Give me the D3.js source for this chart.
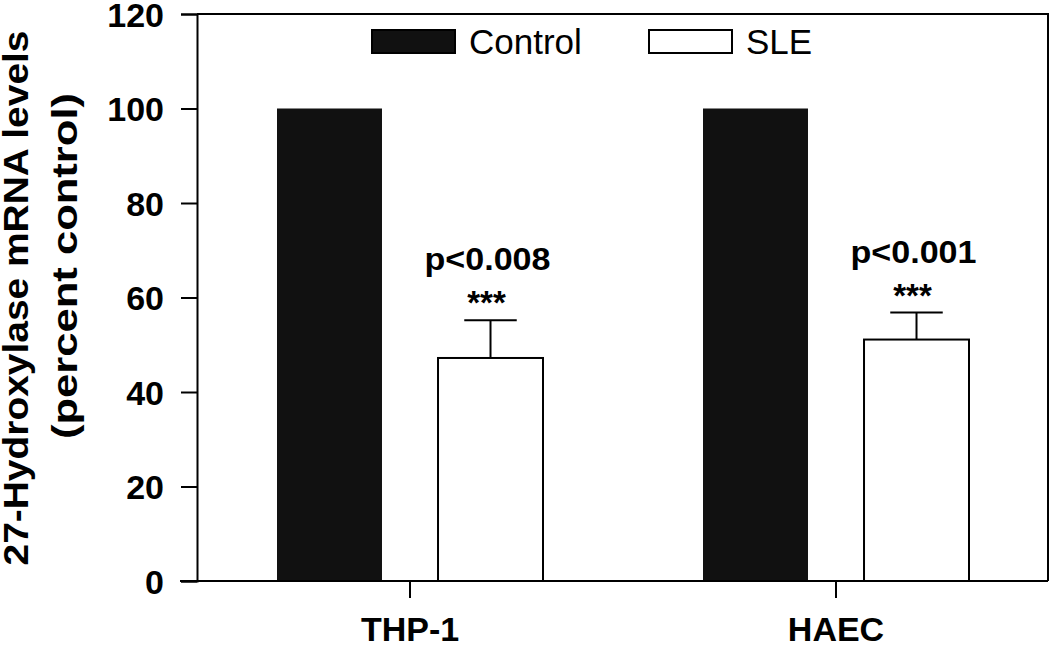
<!DOCTYPE html>
<html>
<head>
<meta charset="utf-8">
<script src="https://cdn.jsdelivr.net/npm/d3@7"></script>
<style>
  body { margin: 0; background: #fff; }
  svg { display: block; font-family: "Liberation Sans", Arial, Helvetica, sans-serif; }
</style>
</head>
<body>
<div id="chart"></div>
<script>
var categories = ["THP-1", "HAEC"];
var groups = ["Control", "SLE"];
var controlValues = [100, 100];
var sleValues = [47.2, 51.1];
var sleErrors = [8.0, 5.7];
var pLabels = ["p<0.008", "p<0.001"];
var yTicks = [0, 20, 40, 60, 80, 100, 120];

function init()
{
  var width = 1050, height = 646;
  var left = 197, right = 1049, top = 14, bottom = 581;

  var svg = d3.select("#chart")
    .append("svg")
    .attr("width", width)
    .attr("height", height);

  var x0 = d3.scaleBand()
    .domain(categories)
    .range([left, right])
    .paddingInner(0.3756)
    .paddingOuter(0.1878);

  var x1 = d3.scaleBand()
    .domain(groups)
    .range([0, x0.bandwidth()])
    .paddingInner(0.348)
    .paddingOuter(0);

  var yScale = d3.scaleLinear()
    .domain([0, 120])
    .range([bottom, top]);

  // frame (top + right)
  svg.append("path")
    .attr("d", "M" + left + "," + top + "H" + (right - 1) + "V" + bottom)
    .style("fill", "none")
    .style("stroke", "#000")
    .style("stroke-width", 2);

  var rows = categories.map(function(c, i) {
    return {cat: c, control: controlValues[i], sle: sleValues[i], err: sleErrors[i], p: pLabels[i]};
  });

  // Control bars
  svg.selectAll(".ctrl")
    .data(rows)
    .enter()
    .append("rect")
      .attr("class", "ctrl")
      .attr("x", function(d) {return x0(d.cat) + x1("Control");})
      .attr("y", function(d) {return yScale(d.control);})
      .attr("width", x1.bandwidth())
      .attr("height", function(d) {return yScale(0) - yScale(d.control);})
      .style("fill", "#111");

  // SLE error bars
  var cx = function(d) {return x0(d.cat) + x1("SLE") + x1.bandwidth() / 2;};
  svg.selectAll(".errv")
    .data(rows)
    .enter()
    .append("line")
      .attr("x1", cx).attr("x2", cx)
      .attr("y1", function(d) {return yScale(d.sle);})
      .attr("y2", function(d) {return yScale(d.sle + d.err);})
      .style("stroke", "#000").style("stroke-width", 2);

  svg.selectAll(".errc")
    .data(rows)
    .enter()
    .append("line")
      .attr("x1", function(d) {return cx(d) - x1.bandwidth() / 4;})
      .attr("x2", function(d) {return cx(d) + x1.bandwidth() / 4;})
      .attr("y1", function(d) {return yScale(d.sle + d.err);})
      .attr("y2", function(d) {return yScale(d.sle + d.err);})
      .style("stroke", "#000").style("stroke-width", 2);

  // SLE bars
  svg.selectAll(".sle")
    .data(rows)
    .enter()
    .append("rect")
      .attr("class", "sle")
      .attr("x", function(d) {return x0(d.cat) + x1("SLE");})
      .attr("y", function(d) {return yScale(d.sle);})
      .attr("width", x1.bandwidth())
      .attr("height", function(d) {return yScale(0) - yScale(d.sle);})
      .style("fill", "#fff")
      .style("stroke", "#000")
      .style("stroke-width", 2);

  // significance labels
  svg.selectAll(".stars")
    .data(rows)
    .enter()
    .append("text")
      .attr("x", function(d) {return cx(d) - 4;})
      .attr("y", function(d) {return yScale(d.sle + d.err) - 6;})
      .style("text-anchor", "middle")
      .style("font-weight", "bold")
      .style("font-size", "33px")
      .text("***");

  svg.selectAll(".pval")
    .data(rows)
    .enter()
    .append("text")
      .attr("x", function(d) {return cx(d) - 3;})
      .attr("y", function(d) {return yScale(d.sle + d.err) - 50;})
      .style("text-anchor", "middle")
      .style("font-weight", "bold")
      .style("font-size", "31px")
      .attr("textLength", 126)
      .attr("lengthAdjust", "spacingAndGlyphs")
      .text(function(d) {return d.p;});

  // axes
  var yAxis = d3.axisLeft(yScale)
    .tickValues(yTicks)
    .tickSize(16)
    .tickPadding(17);

  var gy = svg.append("g")
    .attr("transform", "translate(" + left + ",0)")
    .call(yAxis);

  var xAxis = d3.axisBottom(x0)
    .tickSize(17)
    .tickPadding(20)
    .tickSizeOuter(0);

  var gx = svg.append("g")
    .attr("transform", "translate(0," + bottom + ")")
    .call(xAxis);

  gx.select(".domain").attr("d", "M180,0H" + (right - 1));

  svg.selectAll(".domain, .tick line")
    .style("stroke", "#000")
    .style("stroke-width", 2);

  gy.selectAll("text")
    .style("font-size", "34px")
    .style("font-weight", "bold")
    .style("font-family", "'Liberation Sans', Arial, sans-serif")
    .attr("dy", "0.36em")
    .attr("fill", "#000");

  gx.selectAll("text")
    .style("font-size", "34px")
    .style("font-weight", "bold")
    .style("font-family", "'Liberation Sans', Arial, sans-serif")
    .attr("y", 60)
    .attr("dy", 0)
    .attr("fill", "#000");

  // y title
  svg.append("text")
    .attr("transform", "translate(28,298) rotate(-90)")
    .style("text-anchor", "middle")
    .style("font-weight", "bold")
    .style("font-size", "35px")
    .attr("textLength", 535)
    .attr("lengthAdjust", "spacingAndGlyphs")
    .text("27-Hydroxylase mRNA levels");

  svg.append("text")
    .attr("transform", "translate(77,266) rotate(-90)")
    .style("text-anchor", "middle")
    .style("font-weight", "bold")
    .style("font-size", "35px")
    .attr("textLength", 346)
    .attr("lengthAdjust", "spacingAndGlyphs")
    .text("(percent control)");

  // legend
  var legend = svg.append("g").attr("class", "legend");
  var legendX = [372, 649];

  legend.selectAll("rect")
    .data(groups)
    .enter()
    .append("rect")
      .attr("x", function(d, i) {return legendX[i];})
      .attr("y", 30)
      .attr("width", 83)
      .attr("height", 23)
      .style("fill", function(d) {return d === "Control" ? "#111" : "#fff";})
      .style("stroke", "#000")
      .style("stroke-width", 2);

  legend.selectAll("text")
    .data(groups)
    .enter()
    .append("text")
      .attr("x", function(d, i) {return legendX[i] + 97;})
      .attr("y", 54)
      .style("font-size", "35px")
      .text(function(d) {return d;});
}

window.onload = init;
</script>
</body>
</html>
